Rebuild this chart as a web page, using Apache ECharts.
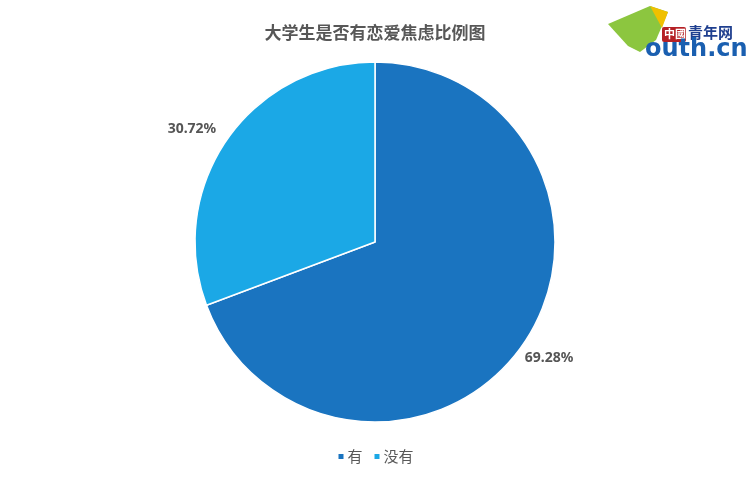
<!DOCTYPE html>
<html><head><meta charset="utf-8">
<script src="https://cdn.jsdelivr.net/npm/echarts@6/dist/echarts.min.js"></script>
<style>html,body{margin:0;padding:0;background:#fff}#c{width:750px;height:495px}</style>
</head><body><div id="c"></div>
<script>
const titleText = '大学生是否有恋爱焦虑比例图';
const categories = ['有', '没有'];
const values = [69.28, 30.72];
const colors = ['#1a74c0', '#1ba8e6'];

const chart = echarts.init(document.getElementById('c'));
chart.setOption({
  backgroundColor: '#ffffff',
  animation: false,
  title: {
    text: titleText, left: 'center', top: 19,
    textStyle: {fontFamily: 'Noto Sans CJK SC', fontSize: 17, fontWeight: 'bold', color: '#575757'}
  },
  legend: {
    data: categories, bottom: 26, left: 'center', itemWidth: 7, itemHeight: 7, itemGap: 10,
    icon: 'rect',
    textStyle: {fontFamily: 'Noto Sans CJK SC', fontSize: 15, color: '#595959', padding: [0,0,0,-2]}
  },
  series: [{
    type: 'pie', radius: 180, center: [375, 242], startAngle: 90, clockwise: true,
    itemStyle: {borderColor: '#ffffff', borderWidth: 1.5},
    label: {
      show: true, position: 'outside', formatter: p => p.value.toFixed(2) + '%',
      fontFamily: 'Noto Sans', fontSize: 14, fontWeight: 'bold', color: '#555555'
    },
    labelLine: {show: false, length: 12, length2: 2},
    labelLayout: p => p.dataIndex === 0 ? {dx: -13, dy: 7} : {dx: 15, dy: 0},
    emphasis: {disabled: true},
    data: categories.map((c, i) => ({
      name: c, value: values[i], itemStyle: {color: colors[i]},
      labelLine: i === 0 ? {show: false, length: 12, length2: 0} : {show: false, length: 18, length2: 6}
    }))
  }],
  graphic: [
    {type: 'polygon', shape: {points: [[608,24],[650,6],[668,12],[656,40],[640,52],[628,46]]}, style: {fill: '#8cc63f'}},
    {type: 'polygon', shape: {points: [[650,6],[668,12],[662,28]]}, style: {fill: '#f0c000'}},
    {type: 'rect', shape: {x: 662, y: 27, width: 24, height: 15, r: 2}, style: {fill: '#b52025'}},
    {type: 'text', style: {x: 664, y: 28, text: '中國', font: 'bold 11px "Noto Sans CJK SC"', fill: '#fff'}},
    {type: 'text', style: {x: 688, y: 25, text: '青年网', font: 'bold 15px "Noto Sans CJK SC"', fill: '#1f3f8f'}},
    {type: 'text', style: {x: 645, y: 38, text: 'outh.cn', font: 'bold 24px "DejaVu Sans"', fill: '#1a5fb0'}}
  ]
});
</script></body></html>
